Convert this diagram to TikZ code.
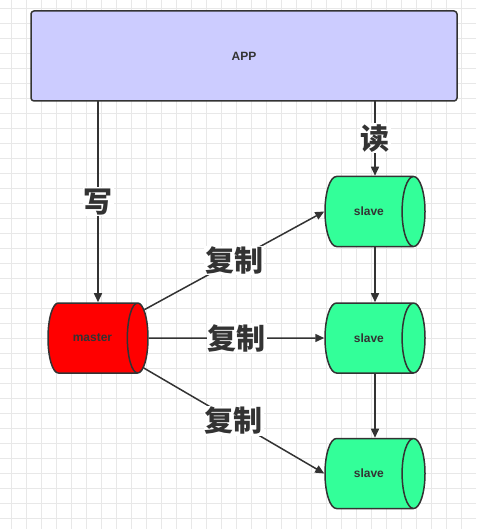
\documentclass[tikz,border=0pt]{standalone}
\usepackage{fontspec}
\setmainfont{Liberation Sans}
\newfontfamily\cjk{Noto Sans CJK SC}
\usetikzlibrary{shapes.geometric,arrows.meta}
\definecolor{appblue}{HTML}{CCCCFF}
\definecolor{masterred}{HTML}{FF0000}
\definecolor{slavegreen}{HTML}{33FF99}
\definecolor{inkgray}{HTML}{333333}
\definecolor{gridgray}{HTML}{E8E8E8}
\tikzset{
	appbox/.style={draw=inkgray, fill=appblue, line width=1.5pt, rounded corners=3pt, minimum width=426pt, minimum height=90pt, font=\bfseries\fontsize{12}{12}\selectfont, text=inkgray},
	db/.style={cylinder, anchor=shape center, draw=inkgray, line width=1.5pt, shape aspect=2.6, minimum width=70pt, minimum height=100pt, inner sep=0pt, font=\bfseries\fontsize{12}{12}\selectfont, text=inkgray},
	conn/.style={draw=inkgray, line width=1.5pt, -{Triangle[length=9pt,width=8pt]}},
	tag/.style={fill=white, inner sep=1pt, text=inkgray, font=\cjk\bfseries\fontsize{29}{29}\selectfont}
}
\begin{document}
\begin{tikzpicture}[x=1pt, y=-1pt, line join=round]
	\useasboundingbox (0,0) rectangle (476,529);
	% grid
	\foreach \gx in {11.7,26.7,...,476} \draw[gridgray, line width=0.7pt] (\gx,0)--(\gx,529);
	\foreach \gy in {8.3,23.3,...,529} \draw[gridgray, line width=0.7pt] (0,\gy)--(476,\gy);
	% boxes
	\node[appbox] (app) at (244,56) {APP};
	\node[db, fill=masterred] (master) at (98,338) {master};
	\node[db, fill=slavegreen] (slaveA) at (375,211.5) {slave};
	\node[db, fill=slavegreen] (slaveB) at (375,338) {slave};
	\node[db, fill=slavegreen] (slaveC) at (375,473.5) {slave};
	\coordinate (wr) at (98,101);
	\coordinate (rd) at (375,101);
	% arrows
	\draw[conn] (wr) -- (master.shape center |- master.north) node[tag, midway] {写};
	\draw[conn] (rd) -- (slaveA.shape center |- slaveA.north) node[tag, midway] {读};
	\draw[conn] (master) -- (slaveA.west) node[tag, midway] {复制};
	\draw[conn] (master) -- (slaveB.west) node[tag, midway] {复制};
	\draw[conn] (master) -- (slaveC.west) node[tag, midway] {复制};
	\draw[conn] (slaveA.shape center |- slaveA.south) -- (slaveB.shape center |- slaveB.north);
	\draw[conn] (slaveB.shape center |- slaveB.south) -- (slaveC.shape center |- slaveC.north);
\end{tikzpicture}
\end{document}
